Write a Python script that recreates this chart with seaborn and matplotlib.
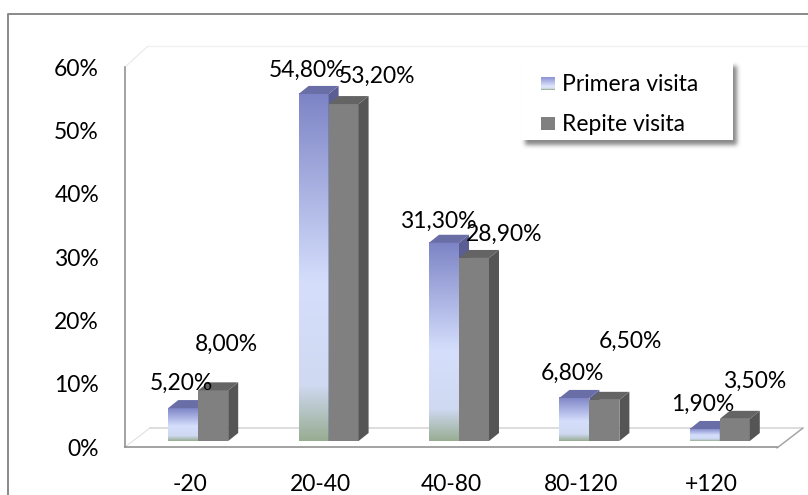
import numpy as np
import pandas as pd
import matplotlib
matplotlib.use("Agg")
import matplotlib.pyplot as plt
import seaborn as sns
from matplotlib.patches import Polygon, Rectangle
from matplotlib.colors import LinearSegmentedColormap
from matplotlib.transforms import ScaledTranslation, Affine2D
from matplotlib.lines import Line2D

# ---- data -------------------------------------------------------------
categories = ["-20", "20-40", "40-80", "80-120", "+120"]
series = ["Primera visita", "Repite visita"]
primera = [5.2, 54.8, 31.3, 6.8, 1.9]
repite = [8.0, 53.2, 28.9, 6.5, 3.5]
y_ticks = [0, 10, 20, 30, 40, 50, 60]

# ---- canvas -----------------------------------------------------------
W, H, DPI = 808, 495, 100
PT = 72 / DPI  # points per pixel

sns.set_theme(style="white")
plt.rcParams["font.family"] = ["Lato", "DejaVu Sans"]
FS = 16.5

fig = plt.figure(figsize=(W / DPI, H / DPI), dpi=DPI)
fig.patch.set_facecolor("white")
# pixel coordinates measured from the top-left corner
pix = Affine2D().scale(1 / W, -1 / H).translate(0, 1) + fig.transFigure

X0, X1, Y0, Y1 = 125, 777, 447, 67
ax = fig.add_axes([X0 / W, 1 - Y0 / H, (X1 - X0) / W, (Y0 - Y1) / H])
ax.patch.set_alpha(0)

df = pd.DataFrame({
    "Rango": categories * 2,
    "Visita": [series[0]] * len(categories) + [series[1]] * len(categories),
    "Valor": primera + repite,
})

sns.barplot(data=df, x="Rango", y="Valor", hue="Visita", order=categories,
            hue_order=series, width=0.46, palette=["#c4ccf2", "#808080"],
            saturation=1, linewidth=0, legend=False, ax=ax)

# ---- pseudo 3-D bars ----------------------------------------------------
px_per_cat = (X1 - X0) / len(categories)
px_per_pct = (Y0 - Y1) / (y_ticks[-1] - y_ticks[0])
DX = 10 / px_per_cat
DY = 8 / px_per_pct
shift = ax.transData + ScaledTranslation(8 / DPI, 6 / DPI, fig.dpi_scale_trans)

blue_grad = LinearSegmentedColormap.from_list(
    "primera", [(0.0, "#7d84c6"), (0.55, "#d5dffc"), (0.84, "#cfd9f1"),
                (1.0, "#98ad92")])
grad = np.linspace(0, 1, 256).reshape(-1, 1)

styles = [
    dict(side="#5b5e92", top="#6a6ea6", z=3),
    dict(side="#555555", top="#646464", z=4),
]

for k, cont in enumerate(ax.containers[:2]):
    st = styles[k]
    for bar in cont:
        x0, w, h = bar.get_x(), bar.get_width(), bar.get_height()
        bar.set_transform(shift)
        bar.set_zorder(st["z"])
        if k == 0:
            im = ax.imshow(grad, cmap=blue_grad, aspect="auto",
                           extent=(x0, x0 + w, 0, h), origin="upper",
                           interpolation="bilinear", zorder=st["z"] + 0.05)
            im.set_transform(shift)
        side = Polygon([(x0 + w, 0), (x0 + w + DX, DY), (x0 + w + DX, h + DY),
                        (x0 + w, h)], closed=True, facecolor=st["side"],
                       edgecolor="none", transform=shift, zorder=st["z"] + 0.1)
        top = Polygon([(x0, h), (x0 + DX, h + DY), (x0 + w + DX, h + DY),
                       (x0 + w, h)], closed=True, facecolor=st["top"],
                      edgecolor="none", transform=shift, zorder=st["z"] + 0.2)
        ax.add_patch(side)
        ax.add_patch(top)

# ---- value labels -------------------------------------------------------
label_dx = [[-2, -7, -6, -2, -2], [13, 33, 30, 26, 20]]
label_dy = [[26, 25, 23, 26, 26], [47, 29, 25, 60, 39]]
for k, cont in enumerate(ax.containers[:2]):
    for i, bar in enumerate(cont):
        v = bar.get_height()
        txt = f"{v:.2f}".replace(".", ",") + "%"
        ax.annotate(txt, (bar.get_x() + bar.get_width() / 2, v),
                    xycoords=shift, textcoords="offset pixels",
                    xytext=(label_dx[k][i], label_dy[k][i] - 8),
                    ha="center", va="baseline", fontsize=FS, color="black",
                    zorder=6, annotation_clip=False)

# ---- axes ---------------------------------------------------------------
AXC = "#878787"
ax.set_xlim(-0.5, len(categories) - 0.5)
ax.set_ylim(y_ticks[0], y_ticks[-1])
ax.set_yticks(y_ticks)
ax.set_yticklabels([f"{t}%" for t in y_ticks])
ax.set_xticks(range(len(categories)))
ax.set_xticklabels(categories)
ax.set_xticks(np.arange(-0.5, len(categories), 1), minor=True)
ax.set_xlabel("")
ax.set_ylabel("")
ax.tick_params(axis="y", direction="out", length=8 * PT, width=1.5 * PT,
               color=AXC, pad=18 * PT, labelsize=FS, labelcolor="black")
ax.tick_params(axis="x", which="major", length=0, pad=27 * PT,
               labelsize=FS, labelcolor="black")
ax.tick_params(axis="x", which="minor", direction="out", length=7 * PT,
               width=1.5 * PT, color=AXC)
for s in ("top", "right"):
    ax.spines[s].set_visible(False)
for s in ("left", "bottom"):
    ax.spines[s].set_color(AXC)
    ax.spines[s].set_linewidth(1.5 * PT)

# back wall and floor edges
def edge(xs, ys, color, lw):
    ax.add_line(Line2D(xs, ys, transform=pix, color=color, lw=lw * PT,
                       clip_on=False, zorder=0.5))

edge([125, 148], [67, 46], "#eaeaea", 1.2)
edge([148, 808], [46, 46], "#f0f0f0", 1.2)
edge([125, 150], [447, 428], "#e2e2e2", 1.2)
edge([150, 803], [428, 428], "#d2d2d2", 1.5)
edge([777, 803], [448, 428], "#a4a4a4", 1.5)

# outer chart border (top and left)
fig.add_artist(Line2D([8, 8, 808], [495, 14, 14], transform=pix,
                      color="#8c8c8c", lw=2 * PT, zorder=1))

# ---- legend -------------------------------------------------------------
def blur1d(a, sigma, axis):
    r = int(3 * sigma)
    x = np.arange(-r, r + 1)
    k = np.exp(-x ** 2 / (2 * sigma ** 2))
    k /= k.sum()
    return np.apply_along_axis(lambda m: np.convolve(m, k, mode="same"), axis, a)

LB = (521, 61, 212, 79)  # left, top, width, height in pixels
pad = 12
sx, sy = 4, 5
mask = np.zeros((LB[3] + 2 * pad, LB[2] + 2 * pad))
mask[pad:pad + LB[3], pad:pad + LB[2]] = 1.0
mask = blur1d(blur1d(mask, 2.2, 0), 2.2, 1)
shadow = np.zeros(mask.shape + (4,))
shadow[..., :3] = 0.45
shadow[..., 3] = mask * 0.85
fig.figimage(shadow, xo=LB[0] + sx - pad, yo=H - (LB[1] + sy + LB[3] + pad),
             origin="upper", zorder=2)
fig.add_artist(Rectangle((LB[0], LB[1]), LB[2], LB[3], transform=pix,
                         facecolor="white", edgecolor="none", zorder=3))

# legend keys
key_h, key_w = 13, 14
key_blue = np.zeros((key_h, key_w, 3))
cm = LinearSegmentedColormap.from_list(
    "key", [(0, "#8f96d6"), (0.75, "#dfe6fc"), (0.9, "#d6def2"), (1, "#a7b8a0")])
for r in range(key_h):
    key_blue[r, :, :] = cm(r / (key_h - 1))[:3]
fig.figimage(key_blue, xo=541, yo=H - (77 + key_h), origin="upper", zorder=4)
fig.add_artist(Rectangle((541, 117), key_w, key_h, transform=pix,
                         facecolor="#808080", edgecolor="none", zorder=4))
for name, yc in zip(series, [83, 123]):
    fig.text(562, yc + 8, name, transform=pix, fontsize=FS, ha="left",
             va="baseline", color="black", zorder=5)

fig.savefig("out.png", dpi=DPI, facecolor="white")
